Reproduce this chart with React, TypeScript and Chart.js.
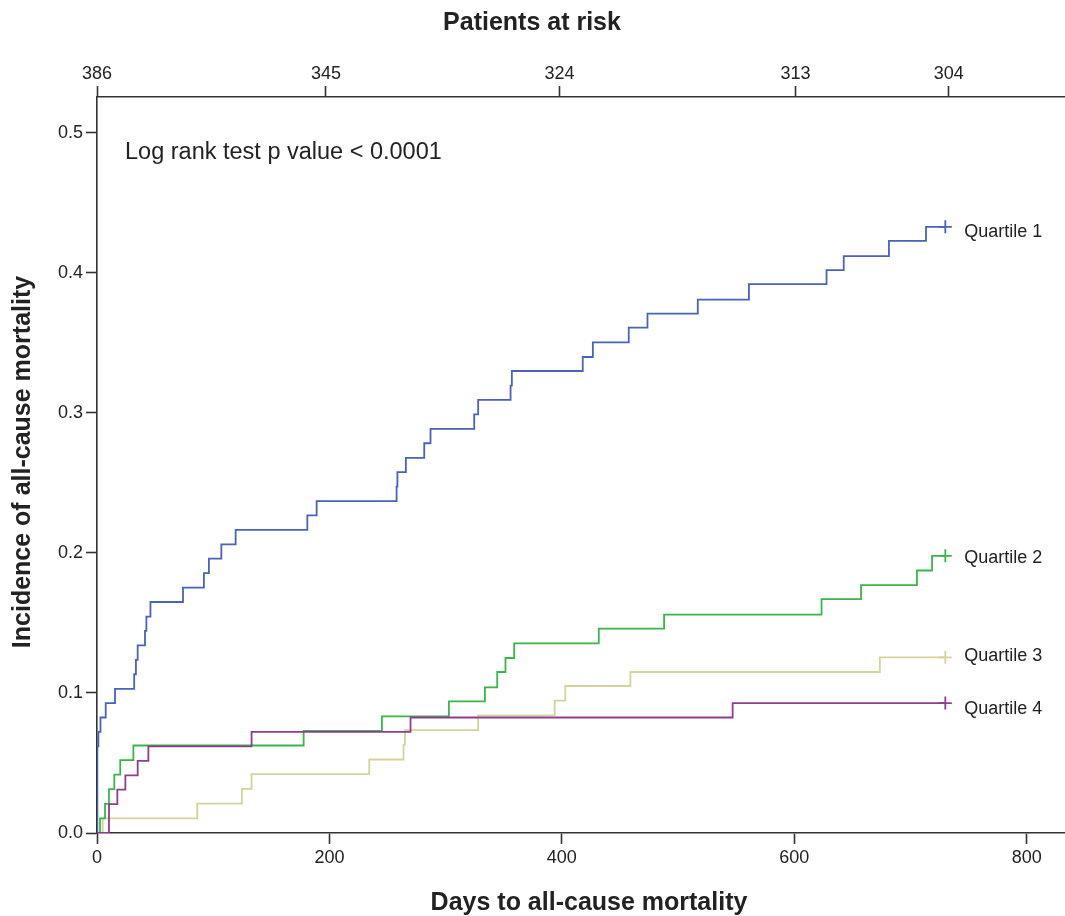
import React, { useEffect, useRef } from "react";
import { Chart, registerables } from "chart.js";

Chart.register(...registerables);

const FONT = "'Liberation Sans', Arial, Helvetica, sans-serif";

// ---- data ----
const seriesNames = ["Quartile 1", "Quartile 2", "Quartile 3", "Quartile 4"];

const q1Days = [0, 0.3, 1.2, 3, 7.5, 15.5, 32, 33.5, 35, 41.3, 42.5, 46, 74, 92, 96.3, 107, 119.3, 181, 189, 257.8, 258.5, 265.8, 281.6, 287, 324.6, 328, 355.9, 357, 418, 426.7, 457.6, 473.7, 517, 561, 627.8, 642.6, 681.5, 713.4, 730];
const q1Vals = [0, 0.0619, 0.0722, 0.0825, 0.0928, 0.103, 0.1134, 0.1237, 0.134, 0.1443, 0.1546, 0.165, 0.1753, 0.1856, 0.196, 0.2062, 0.2165, 0.2268, 0.237, 0.2474, 0.2577, 0.268, 0.2784, 0.2887, 0.299, 0.3093, 0.3196, 0.33, 0.34, 0.3505, 0.361, 0.371, 0.381, 0.392, 0.402, 0.412, 0.423, 0.433, 0.433];

const q2Days = [0, 2.6, 6.9, 10.3, 14.9, 20, 31.3, 177.8, 245.2, 302.8, 333.8, 344.4, 351.5, 359, 431.8, 488, 623.5, 657.5, 705.6, 718.6, 730];
const q2Vals = [0, 0.0104, 0.0208, 0.0313, 0.0417, 0.052, 0.0625, 0.073, 0.0833, 0.094, 0.104, 0.115, 0.125, 0.1354, 0.146, 0.156, 0.167, 0.177, 0.1875, 0.198, 0.198];

const q3Days = [0, 4.9, 86.3, 124.7, 133, 234.3, 263.8, 265, 328, 393.8, 403, 459, 673.7, 730];
const q3Vals = [0, 0.0105, 0.021, 0.0315, 0.042, 0.0525, 0.063, 0.0735, 0.084, 0.0945, 0.105, 0.115, 0.1255, 0.1255];

const q4Days = [0, 10.3, 17.5, 24.4, 35, 44.2, 133, 269.8, 547, 730];
const q4Vals = [0, 0.0206, 0.031, 0.0412, 0.0515, 0.0619, 0.0722, 0.0825, 0.0928, 0.0928];

const xTicks = [0, 200, 400, 600, 800];
const yTicks = [0, 0.1, 0.2, 0.3, 0.4, 0.5];
const riskDays = [0, 197, 398, 601, 733];
const riskCounts = ["386", "345", "324", "313", "304"];

const X_MAX = 833;
const Y_MAX = 0.5257;

const colors = ["#4a62b8", "#3bb54a", "#d5d29b", "#8e3c8e"];
const labelOffsets = [5, 2.5, -1.5, 5.5];

export default function App() {
  const canvasRef = useRef<HTMLCanvasElement | null>(null);

  useEffect(() => {
    document.body.style.margin = "0";
    document.body.style.overflow = "hidden";
    const canvas = canvasRef.current;
    if (!canvas) return;

    const allDays = [q1Days, q2Days, q3Days, q4Days];
    const allVals = [q1Vals, q2Vals, q3Vals, q4Vals];
    const drawOrder = [1, 2, 3, 0];

    const datasets = seriesNames.map((name, i) => {
      const d = allDays[i];
      const v = allVals[i];
      const last = d.length - 1;
      return {
        label: name,
        data: d.map((x, j) => ({ x, y: v[j] })),
        borderColor: colors[i],
        backgroundColor: colors[i],
        borderWidth: 1.8,
        stepped: "before" as const,
        fill: false,
        order: drawOrder[i],
        pointStyle: "cross" as const,
        pointRadius: d.map((_, j) => (j === last ? 6.5 : 0)),
        pointBorderColor: colors[i],
        pointBorderWidth: 1.8,
        pointHoverRadius: 0,
        xAxisID: "x",
        yAxisID: "y",
      };
    });

    const textPlugin = {
      id: "kmTexts",
      afterDraw(chart: any) {
        const c = chart.ctx as CanvasRenderingContext2D;
        const xs = chart.scales.x;
        const ys = chart.scales.y;
        const area = chart.chartArea;
        c.save();
        c.fillStyle = "#222";
        c.textBaseline = "middle";
        c.textAlign = "center";
        c.font = `bold 25px ${FONT}`;
        c.fillText("Patients at risk", 532, 23);
        c.fillText("Days to all-cause mortality", 589, 903);
        c.save();
        c.translate(23, 462);
        c.rotate(-Math.PI / 2);
        c.fillText("Incidence of all-cause mortality", 0, 0);
        c.restore();

        c.textAlign = "left";
        c.font = `23.5px ${FONT}`;
        c.fillText("Log rank test p value < 0.0001", area.left + 28, area.top + 56);

        c.font = `18px ${FONT}`;
        seriesNames.forEach((name, i) => {
          const d = allDays[i];
          const v = allVals[i];
          const lx = xs.getPixelForValue(d[d.length - 1]) + 19;
          const ly = ys.getPixelForValue(v[v.length - 1]) + labelOffsets[i];
          c.fillText(name, lx, ly);
        });
        c.restore();
      },
    };

    const tickFont = { family: FONT, size: 18 };
    const gridCommon = {
      drawOnChartArea: false,
      drawTicks: true,
      tickLength: 11,
      tickColor: "#333",
      tickWidth: 1.6,
      color: "#333",
    };
    const borderCommon = { display: true, color: "#333", width: 1.6 };

    const zeroPad = (scale: any) => {
      scale.paddingLeft = 0;
      scale.paddingRight = 0;
      scale.paddingTop = 0;
      scale.paddingBottom = 0;
    };

    const chart = new Chart(canvas, {
      type: "line",
      data: { datasets: datasets as any },
      options: {
        animation: false,
        responsive: true,
        maintainAspectRatio: false,
        layout: { padding: 0, autoPadding: false },
        plugins: {
          legend: { display: false },
          tooltip: { enabled: false },
        },
        elements: { line: { tension: 0 } },
        scales: {
          x: {
            type: "linear",
            position: "bottom",
            min: 0,
            max: X_MAX,
            grid: gridCommon as any,
            border: borderCommon,
            ticks: {
              font: tickFont,
              color: "#222",
              padding: 3,
              autoSkip: false,
              maxRotation: 0,
              callback: (val: any) => String(val),
            },
            afterBuildTicks: (scale: any) => {
              scale.ticks = xTicks.map((value) => ({ value }));
            },
            afterFit: (scale: any) => {
              scale.height = 83;
              zeroPad(scale);
            },
          },
          x2: {
            type: "linear",
            position: "top",
            min: 0,
            max: X_MAX,
            grid: gridCommon as any,
            border: borderCommon,
            ticks: {
              font: tickFont,
              color: "#222",
              padding: 1,
              autoSkip: false,
              maxRotation: 0,
              callback: (_val: any, index: number) => riskCounts[index],
            },
            afterBuildTicks: (scale: any) => {
              scale.ticks = riskDays.map((value) => ({ value }));
            },
            afterFit: (scale: any) => {
              scale.height = 97;
              zeroPad(scale);
            },
          },
          y: {
            type: "linear",
            position: "left",
            min: 0,
            max: Y_MAX,
            grid: gridCommon as any,
            border: borderCommon,
            ticks: {
              font: tickFont,
              color: "#222",
              padding: 3,
              autoSkip: false,
              callback: (val: any) => Number(val).toFixed(1),
            },
            afterBuildTicks: (scale: any) => {
              scale.ticks = yTicks.map((value) => ({ value }));
            },
            afterFit: (scale: any) => {
              scale.width = 97;
              zeroPad(scale);
            },
          },
        },
      },
      plugins: [textPlugin],
    });

    return () => {
      chart.destroy();
    };
  }, []);

  return (
    <div style={{ position: "relative", width: "1065px", height: "916px", background: "#fff" }}>
      <canvas ref={canvasRef} />
    </div>
  );
}
